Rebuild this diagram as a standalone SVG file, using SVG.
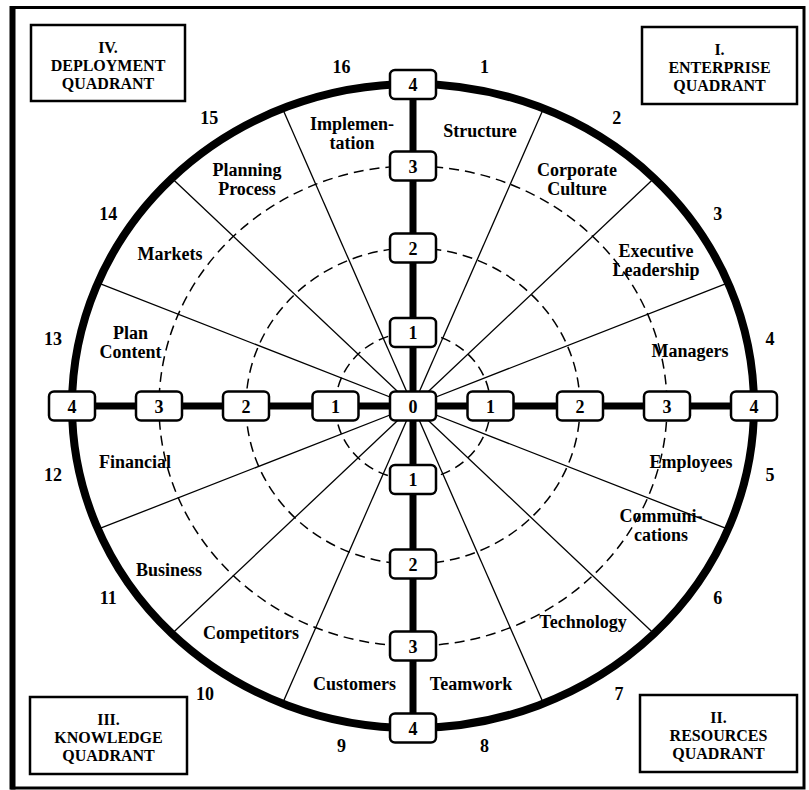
<svg xmlns="http://www.w3.org/2000/svg" width="809" height="790" viewBox="0 0 809 790">
<style>
text{font-family:"Liberation Serif","Times New Roman",serif;font-weight:bold;fill:#000;text-anchor:middle}
.lbl{font-size:18px}
.num{font-size:18px}
.q{font-size:16px}
.box{fill:#fff;stroke:#000;stroke-width:2.5}
.qbox{fill:#fff;stroke:#000;stroke-width:2.5}
.spoke{stroke:#000;stroke-width:1.3}
.ring{fill:none;stroke:#000;stroke-width:1.5;stroke-dasharray:10 6}
.axis{stroke:#000;stroke-width:7}
</style>
<rect width="809" height="790" fill="#fff"/>
<g id="frame">
<rect x="12" y="7.5" width="792" height="780.5" fill="none" stroke="#000" stroke-width="3"/>
<line x1="12.5" y1="6" x2="12.5" y2="789.5" stroke="#000" stroke-width="6"/>
</g>
<g id="connectors">
<g id="spokes">
<line class="spoke" x1="413" y1="406" x2="543.5" y2="108.5"/>
<line class="spoke" x1="413" y1="406" x2="654.1" y2="178.3"/>
<line class="spoke" x1="413" y1="406" x2="728" y2="282.8"/>
<line class="spoke" x1="413" y1="406" x2="728" y2="529.2"/>
<line class="spoke" x1="413" y1="406" x2="654.1" y2="633.7"/>
<line class="spoke" x1="413" y1="406" x2="543.5" y2="703.5"/>
<line class="spoke" x1="413" y1="406" x2="282.5" y2="703.5"/>
<line class="spoke" x1="413" y1="406" x2="171.9" y2="633.7"/>
<line class="spoke" x1="413" y1="406" x2="98" y2="529.2"/>
<line class="spoke" x1="413" y1="406" x2="98" y2="282.8"/>
<line class="spoke" x1="413" y1="406" x2="171.9" y2="178.3"/>
<line class="spoke" x1="413" y1="406" x2="282.5" y2="108.5"/>
</g>
<g id="rings">
<ellipse class="ring" cx="413" cy="406" rx="77.5" ry="73.5"/>
<ellipse class="ring" cx="413" cy="406" rx="167" ry="158"/>
<ellipse class="ring" cx="413" cy="406" rx="254" ry="240"/>
</g>
<ellipse cx="413" cy="406" rx="341" ry="322" fill="none" stroke="#000" stroke-width="8"/>
<line class="axis" x1="413" y1="84" x2="413" y2="728"/>
<line class="axis" x1="72" y1="406" x2="754" y2="406"/>
</g>
<g id="scale-nodes">
<g id="n0"><rect class="box" x="390" y="391.5" width="46" height="29" rx="5"/><text class="num" x="413" y="412.5">0</text></g>
<g id="nt1"><rect class="box" x="390" y="318" width="46" height="29" rx="5"/><text class="num" x="413" y="339">1</text></g>
<g id="nt2"><rect class="box" x="390" y="233.5" width="46" height="29" rx="5"/><text class="num" x="413" y="254.5">2</text></g>
<g id="nt3"><rect class="box" x="390" y="151.5" width="46" height="29" rx="5"/><text class="num" x="413" y="172.5">3</text></g>
<g id="nt4"><rect class="box" x="390" y="70" width="46" height="29" rx="5"/><text class="num" x="413" y="91">4</text></g>
<g id="nb1"><rect class="box" x="390" y="465" width="46" height="29" rx="5"/><text class="num" x="413" y="486">1</text></g>
<g id="nb2"><rect class="box" x="390" y="549.5" width="46" height="29" rx="5"/><text class="num" x="413" y="570.5">2</text></g>
<g id="nb3"><rect class="box" x="390" y="631.5" width="46" height="29" rx="5"/><text class="num" x="413" y="652.5">3</text></g>
<g id="nb4"><rect class="box" x="390" y="713.5" width="46" height="29" rx="5"/><text class="num" x="413" y="734.5">4</text></g>
<g id="nl1"><rect class="box" x="312.5" y="391.5" width="46" height="29" rx="5"/><text class="num" x="335.5" y="412.5">1</text></g>
<g id="nl2"><rect class="box" x="223" y="391.5" width="46" height="29" rx="5"/><text class="num" x="246" y="412.5">2</text></g>
<g id="nl3"><rect class="box" x="136" y="391.5" width="46" height="29" rx="5"/><text class="num" x="159" y="412.5">3</text></g>
<g id="nl4"><rect class="box" x="49" y="391.5" width="46" height="29" rx="5"/><text class="num" x="72" y="412.5">4</text></g>
<g id="nr1"><rect class="box" x="467.5" y="391.5" width="46" height="29" rx="5"/><text class="num" x="490.5" y="412.5">1</text></g>
<g id="nr2"><rect class="box" x="557" y="391.5" width="46" height="29" rx="5"/><text class="num" x="580" y="412.5">2</text></g>
<g id="nr3"><rect class="box" x="644" y="391.5" width="46" height="29" rx="5"/><text class="num" x="667" y="412.5">3</text></g>
<g id="nr4"><rect class="box" x="731" y="391.5" width="46" height="29" rx="5"/><text class="num" x="754" y="412.5">4</text></g>
</g>
<g id="quadrants">
<g id="q4"><rect class="qbox" x="31" y="25" width="154" height="76"/><text class="q" x="108" y="53">IV.</text><text class="q" x="108" y="71">DEPLOYMENT</text><text class="q" x="108" y="89">QUADRANT</text></g>
<g id="q1"><rect class="qbox" x="642" y="27" width="155" height="77"/><text class="q" x="719.5" y="55">I.</text><text class="q" x="719.5" y="73">ENTERPRISE</text><text class="q" x="719.5" y="91">QUADRANT</text></g>
<g id="q3"><rect class="qbox" x="30" y="697" width="157" height="77"/><text class="q" x="108.5" y="725">III.</text><text class="q" x="108.5" y="743">KNOWLEDGE</text><text class="q" x="108.5" y="761">QUADRANT</text></g>
<g id="q2"><rect class="qbox" x="640" y="695" width="157" height="77"/><text class="q" x="718.5" y="723">II.</text><text class="q" x="718.5" y="741">RESOURCES</text><text class="q" x="718.5" y="759">QUADRANT</text></g>
</g>
<g id="sector-numbers">
<text class="num" x="484.5" y="72.5">1</text>
<text class="num" x="616.7" y="124">2</text>
<text class="num" x="717.8" y="220">3</text>
<text class="num" x="770" y="345">4</text>
<text class="num" x="770" y="480.5">5</text>
<text class="num" x="717.8" y="604">6</text>
<text class="num" x="619" y="700">7</text>
<text class="num" x="484.5" y="751.5">8</text>
<text class="num" x="341.5" y="751.5">9</text>
<text class="num" x="205" y="700">10</text>
<text class="num" x="108.2" y="604">11</text>
<text class="num" x="53" y="480.5">12</text>
<text class="num" x="53" y="345">13</text>
<text class="num" x="108.2" y="220">14</text>
<text class="num" x="209.3" y="124">15</text>
<text class="num" x="341.5" y="72.5">16</text>
</g>
<g id="sectors">
<g id="s1"><text class="lbl" x="480" y="137">Structure</text></g>
<g id="s2"><text class="lbl" x="577" y="176">Corporate</text><text class="lbl" x="577" y="195">Culture</text></g>
<g id="s3"><text class="lbl" x="656" y="257">Executive</text><text class="lbl" x="656" y="276">Leadership</text></g>
<g id="s4"><text class="lbl" x="690" y="357">Managers</text></g>
<g id="s5"><text class="lbl" x="691" y="468">Employees</text></g>
<g id="s6"><text class="lbl" x="661" y="522">Communi-</text><text class="lbl" x="661" y="541">cations</text></g>
<g id="s7"><text class="lbl" x="583" y="628">Technology</text></g>
<g id="s8"><text class="lbl" x="471" y="690">Teamwork</text></g>
<g id="s9"><text class="lbl" x="354.5" y="690">Customers</text></g>
<g id="s10"><text class="lbl" x="251" y="639">Competitors</text></g>
<g id="s11"><text class="lbl" x="169" y="576">Business</text></g>
<g id="s12"><text class="lbl" x="135" y="468">Financial</text></g>
<g id="s13"><text class="lbl" x="130.5" y="339">Plan</text><text class="lbl" x="130.5" y="358">Content</text></g>
<g id="s14"><text class="lbl" x="170" y="260">Markets</text></g>
<g id="s15"><text class="lbl" x="247" y="176">Planning</text><text class="lbl" x="247" y="195">Process</text></g>
<g id="s16"><text class="lbl" x="352" y="130">Implemen-</text><text class="lbl" x="352" y="149">tation</text></g>
</g>
</svg>
